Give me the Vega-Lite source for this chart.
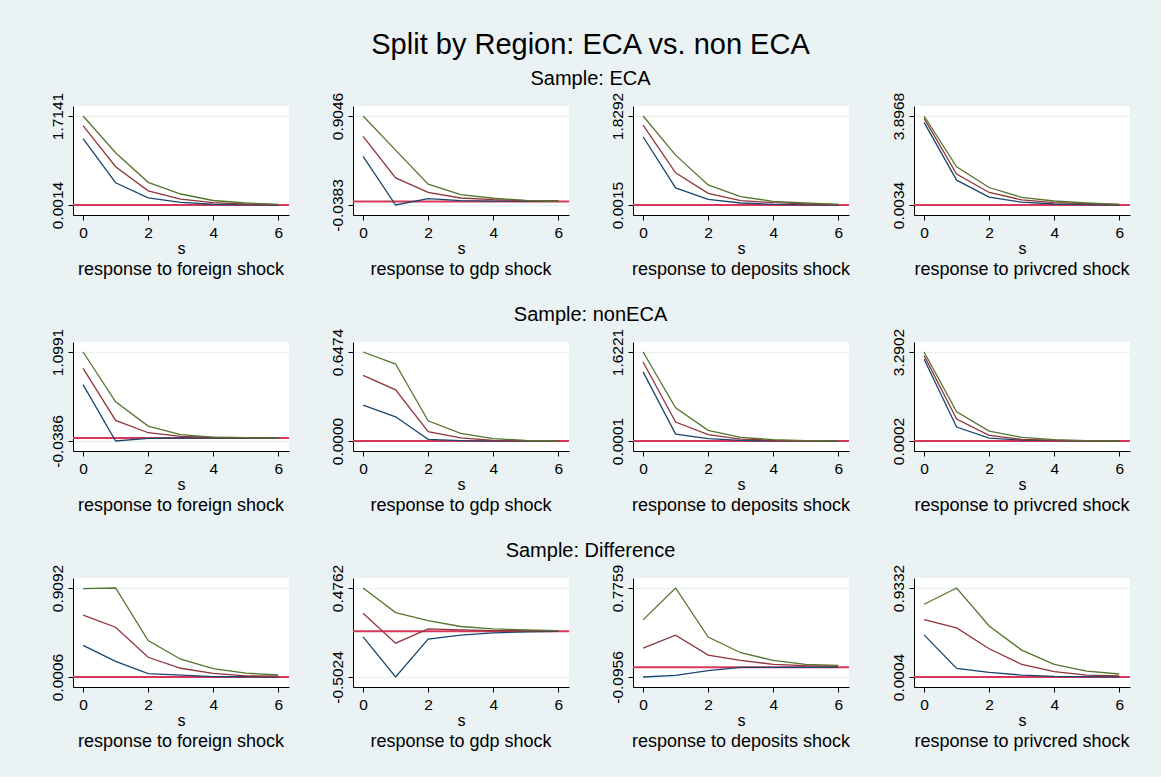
{
  "$schema": "https://vega.github.io/schema/vega-lite/v6.json",
  "padding": {"left": 50, "top": 31, "right": 30, "bottom": 26},
  "datasets": {
    "irf": [
      {"g":"ECA","k":"foreign","s":0,"lo":1.28,"irf":1.528,"hi":1.7141},
      {"g":"ECA","k":"foreign","s":1,"lo":0.43,"irf":0.737,"hi":1.006},
      {"g":"ECA","k":"foreign","s":2,"lo":0.139,"irf":0.274,"hi":0.438},
      {"g":"ECA","k":"foreign","s":3,"lo":0.05,"irf":0.114,"hi":0.213},
      {"g":"ECA","k":"foreign","s":4,"lo":0.016,"irf":0.046,"hi":0.088},
      {"g":"ECA","k":"foreign","s":5,"lo":0.006,"irf":0.02,"hi":0.04},
      {"g":"ECA","k":"foreign","s":6,"lo":0.0014,"irf":0.007,"hi":0.012},
      {"g":"ECA","k":"gdp","s":0,"lo":0.476,"irf":0.688,"hi":0.9046},
      {"g":"ECA","k":"gdp","s":1,"lo":-0.0383,"irf":0.249,"hi":0.543},
      {"g":"ECA","k":"gdp","s":2,"lo":0.029,"irf":0.096,"hi":0.182},
      {"g":"ECA","k":"gdp","s":3,"lo":0.008,"irf":0.036,"hi":0.072},
      {"g":"ECA","k":"gdp","s":4,"lo":0.003,"irf":0.018,"hi":0.033},
      {"g":"ECA","k":"gdp","s":5,"lo":0.003,"irf":0.008,"hi":0.011},
      {"g":"ECA","k":"gdp","s":6,"lo":0.003,"irf":0.004,"hi":0.004},
      {"g":"ECA","k":"deposits","s":0,"lo":1.403,"irf":1.643,"hi":1.8292},
      {"g":"ECA","k":"deposits","s":1,"lo":0.352,"irf":0.661,"hi":1.025},
      {"g":"ECA","k":"deposits","s":2,"lo":0.118,"irf":0.242,"hi":0.414},
      {"g":"ECA","k":"deposits","s":3,"lo":0.043,"irf":0.091,"hi":0.173},
      {"g":"ECA","k":"deposits","s":4,"lo":0.015,"irf":0.05,"hi":0.077},
      {"g":"ECA","k":"deposits","s":5,"lo":0.006,"irf":0.025,"hi":0.043},
      {"g":"ECA","k":"deposits","s":6,"lo":0.0015,"irf":0.012,"hi":0.015},
      {"g":"ECA","k":"privcred","s":0,"lo":3.62,"irf":3.79,"hi":3.8968},
      {"g":"ECA","k":"privcred","s":1,"lo":1.09,"irf":1.358,"hi":1.67},
      {"g":"ECA","k":"privcred","s":2,"lo":0.345,"irf":0.55,"hi":0.768},
      {"g":"ECA","k":"privcred","s":3,"lo":0.127,"irf":0.228,"hi":0.338},
      {"g":"ECA","k":"privcred","s":4,"lo":0.048,"irf":0.11,"hi":0.179},
      {"g":"ECA","k":"privcred","s":5,"lo":0.018,"irf":0.06,"hi":0.09},
      {"g":"ECA","k":"privcred","s":6,"lo":0.0034,"irf":0.03,"hi":0.03},
      {"g":"nonECA","k":"foreign","s":0,"lo":0.683,"irf":0.891,"hi":1.0991},
      {"g":"nonECA","k":"foreign","s":1,"lo":-0.0386,"irf":0.225,"hi":0.462},
      {"g":"nonECA","k":"foreign","s":2,"lo":-0.005,"irf":0.067,"hi":0.152},
      {"g":"nonECA","k":"foreign","s":3,"lo":0.0,"irf":0.021,"hi":0.042},
      {"g":"nonECA","k":"foreign","s":4,"lo":0.0,"irf":0.008,"hi":0.012},
      {"g":"nonECA","k":"foreign","s":5,"lo":0.0,"irf":0.004,"hi":0.005},
      {"g":"nonECA","k":"foreign","s":6,"lo":0.0,"irf":0.002,"hi":0.002},
      {"g":"nonECA","k":"gdp","s":0,"lo":0.261,"irf":0.478,"hi":0.6474},
      {"g":"nonECA","k":"gdp","s":1,"lo":0.176,"irf":0.372,"hi":0.56},
      {"g":"nonECA","k":"gdp","s":2,"lo":0.012,"irf":0.068,"hi":0.147},
      {"g":"nonECA","k":"gdp","s":3,"lo":0.002,"irf":0.022,"hi":0.056},
      {"g":"nonECA","k":"gdp","s":4,"lo":0.0,"irf":0.005,"hi":0.017},
      {"g":"nonECA","k":"gdp","s":5,"lo":0.0,"irf":0.001,"hi":0.004},
      {"g":"nonECA","k":"gdp","s":6,"lo":0.0,"irf":0.0,"hi":0.0},
      {"g":"nonECA","k":"deposits","s":0,"lo":1.259,"irf":1.44,"hi":1.6221},
      {"g":"nonECA","k":"deposits","s":1,"lo":0.127,"irf":0.345,"hi":0.605},
      {"g":"nonECA","k":"deposits","s":2,"lo":0.042,"irf":0.115,"hi":0.194},
      {"g":"nonECA","k":"deposits","s":3,"lo":0.012,"irf":0.036,"hi":0.067},
      {"g":"nonECA","k":"deposits","s":4,"lo":0.002,"irf":0.012,"hi":0.024},
      {"g":"nonECA","k":"deposits","s":5,"lo":0.001,"irf":0.004,"hi":0.006},
      {"g":"nonECA","k":"deposits","s":6,"lo":0.0001,"irf":0.001,"hi":0.001},
      {"g":"nonECA","k":"privcred","s":0,"lo":3.02,"irf":3.155,"hi":3.2902},
      {"g":"nonECA","k":"privcred","s":1,"lo":0.516,"irf":0.81,"hi":1.08},
      {"g":"nonECA","k":"privcred","s":2,"lo":0.11,"irf":0.209,"hi":0.368},
      {"g":"nonECA","k":"privcred","s":3,"lo":0.037,"irf":0.061,"hi":0.135},
      {"g":"nonECA","k":"privcred","s":4,"lo":0.012,"irf":0.025,"hi":0.049},
      {"g":"nonECA","k":"privcred","s":5,"lo":0.003,"irf":0.008,"hi":0.012},
      {"g":"nonECA","k":"privcred","s":6,"lo":0.0002,"irf":0.001,"hi":0.002},
      {"g":"Difference","k":"foreign","s":0,"lo":0.323,"irf":0.633,"hi":0.902},
      {"g":"Difference","k":"foreign","s":1,"lo":0.16,"irf":0.509,"hi":0.9092},
      {"g":"Difference","k":"foreign","s":2,"lo":0.036,"irf":0.202,"hi":0.373},
      {"g":"Difference","k":"foreign","s":3,"lo":0.019,"irf":0.09,"hi":0.182},
      {"g":"Difference","k":"foreign","s":4,"lo":0.005,"irf":0.038,"hi":0.085},
      {"g":"Difference","k":"foreign","s":5,"lo":0.003,"irf":0.012,"hi":0.04},
      {"g":"Difference","k":"foreign","s":6,"lo":0.0006,"irf":0.008,"hi":0.021},
      {"g":"Difference","k":"gdp","s":0,"lo":-0.061,"irf":0.199,"hi":0.4762},
      {"g":"Difference","k":"gdp","s":1,"lo":-0.5024,"irf":-0.13,"hi":0.206},
      {"g":"Difference","k":"gdp","s":2,"lo":-0.086,"irf":0.027,"hi":0.118},
      {"g":"Difference","k":"gdp","s":3,"lo":-0.042,"irf":0.016,"hi":0.053},
      {"g":"Difference","k":"gdp","s":4,"lo":-0.017,"irf":0.008,"hi":0.027},
      {"g":"Difference","k":"gdp","s":5,"lo":-0.006,"irf":0.004,"hi":0.016},
      {"g":"Difference","k":"gdp","s":6,"lo":0.0,"irf":0.004,"hi":0.008},
      {"g":"Difference","k":"deposits","s":0,"lo":-0.0956,"irf":0.187,"hi":0.464},
      {"g":"Difference","k":"deposits","s":1,"lo":-0.079,"irf":0.314,"hi":0.7759},
      {"g":"Difference","k":"deposits","s":2,"lo":-0.034,"irf":0.119,"hi":0.295},
      {"g":"Difference","k":"deposits","s":3,"lo":-0.001,"irf":0.067,"hi":0.142},
      {"g":"Difference","k":"deposits","s":4,"lo":-0.001,"irf":0.028,"hi":0.067},
      {"g":"Difference","k":"deposits","s":5,"lo":0.0,"irf":0.015,"hi":0.028},
      {"g":"Difference","k":"deposits","s":6,"lo":0.0,"irf":0.011,"hi":0.018},
      {"g":"Difference","k":"privcred","s":0,"lo":0.442,"irf":0.603,"hi":0.763},
      {"g":"Difference","k":"privcred","s":1,"lo":0.091,"irf":0.515,"hi":0.9332},
      {"g":"Difference","k":"privcred","s":2,"lo":0.049,"irf":0.296,"hi":0.536},
      {"g":"Difference","k":"privcred","s":3,"lo":0.021,"irf":0.133,"hi":0.282},
      {"g":"Difference","k":"privcred","s":4,"lo":0.008,"irf":0.056,"hi":0.133},
      {"g":"Difference","k":"privcred","s":5,"lo":0.004,"irf":0.021,"hi":0.063},
      {"g":"Difference","k":"privcred","s":6,"lo":0.0004,"irf":0.011,"hi":0.032}
    ]
  },
  "title": {"text": "Split by Region: ECA vs. non ECA", "fontSize": 29, "anchor": "middle", "offset": 9},
  "spacing": 26,
  "vconcat": [
    {
      "title": {"text": "Sample: ECA", "fontSize": 20, "anchor": "middle", "offset": 3},
      "spacing": 40,
      "hconcat": [
        {"width": 216, "height": 109, "title": {"text": "response to foreign shock", "orient": "bottom", "fontSize": 18, "offset": 4},
         "layer": [
          {"data": {"values": [{}]}, "mark": {"type": "rule", "color": "#d8365a", "strokeWidth": 2}, "encoding": {"y": {"datum": 0, "type": "quantitative"}}},
          {"data": {"name": "irf"}, "transform": [{"filter": "datum.g==='ECA'&&datum.k==='foreign'"}, {"fold": ["lo","irf","hi"], "as": ["b","v"]}],
           "mark": {"type": "line", "strokeWidth": 1.3},
           "encoding": {
            "x": {"field": "s", "type": "quantitative", "scale": {"domain": [-0.31, 6.33], "nice": false, "zero": false}, "axis": {"values": [0,2,4,6], "title": "s"}},
            "y": {"field": "v", "type": "quantitative", "scale": {"domain": [-0.1911, 1.9066], "nice": false, "zero": false}, "axis": {"values": [0.0014, 1.7141], "title": null}},
            "color": {"field": "b", "type": "nominal", "scale": {"domain": ["lo","irf","hi"], "range": ["#1a476f","#90353b","#55752f"]}, "legend": null}}}
         ]},
        {"width": 216, "height": 109, "title": {"text": "response to gdp shock", "orient": "bottom", "fontSize": 18, "offset": 4},
         "layer": [
          {"data": {"values": [{}]}, "mark": {"type": "rule", "color": "#d8365a", "strokeWidth": 2}, "encoding": {"y": {"datum": 0, "type": "quantitative"}}},
          {"data": {"name": "irf"}, "transform": [{"filter": "datum.g==='ECA'&&datum.k==='gdp'"}, {"fold": ["lo","irf","hi"], "as": ["b","v"]}],
           "mark": {"type": "line", "strokeWidth": 1.3},
           "encoding": {
            "x": {"field": "s", "type": "quantitative", "scale": {"domain": [-0.31, 6.33], "nice": false, "zero": false}, "axis": {"values": [0,2,4,6], "title": "s"}},
            "y": {"field": "v", "type": "quantitative", "scale": {"domain": [-0.1443, 1.0106], "nice": false, "zero": false}, "axis": {"values": [-0.0383, 0.9046], "title": null}},
            "color": {"field": "b", "type": "nominal", "scale": {"domain": ["lo","irf","hi"], "range": ["#1a476f","#90353b","#55752f"]}, "legend": null}}}
         ]},
        {"width": 216, "height": 109, "title": {"text": "response to deposits shock", "orient": "bottom", "fontSize": 18, "offset": 4},
         "layer": [
          {"data": {"values": [{}]}, "mark": {"type": "rule", "color": "#d8365a", "strokeWidth": 2}, "encoding": {"y": {"datum": 0, "type": "quantitative"}}},
          {"data": {"name": "irf"}, "transform": [{"filter": "datum.g==='ECA'&&datum.k==='deposits'"}, {"fold": ["lo","irf","hi"], "as": ["b","v"]}],
           "mark": {"type": "line", "strokeWidth": 1.3},
           "encoding": {
            "x": {"field": "s", "type": "quantitative", "scale": {"domain": [-0.31, 6.33], "nice": false, "zero": false}, "axis": {"values": [0,2,4,6], "title": "s"}},
            "y": {"field": "v", "type": "quantitative", "scale": {"domain": [-0.2039, 2.0346], "nice": false, "zero": false}, "axis": {"values": [0.0015, 1.8292], "title": null}},
            "color": {"field": "b", "type": "nominal", "scale": {"domain": ["lo","irf","hi"], "range": ["#1a476f","#90353b","#55752f"]}, "legend": null}}}
         ]},
        {"width": 216, "height": 109, "title": {"text": "response to privcred shock", "orient": "bottom", "fontSize": 18, "offset": 4},
         "layer": [
          {"data": {"values": [{}]}, "mark": {"type": "rule", "color": "#d8365a", "strokeWidth": 2}, "encoding": {"y": {"datum": 0, "type": "quantitative"}}},
          {"data": {"name": "irf"}, "transform": [{"filter": "datum.g==='ECA'&&datum.k==='privcred'"}, {"fold": ["lo","irf","hi"], "as": ["b","v"]}],
           "mark": {"type": "line", "strokeWidth": 1.3},
           "encoding": {
            "x": {"field": "s", "type": "quantitative", "scale": {"domain": [-0.31, 6.33], "nice": false, "zero": false}, "axis": {"values": [0,2,4,6], "title": "s"}},
            "y": {"field": "v", "type": "quantitative", "scale": {"domain": [-0.4342, 4.3344], "nice": false, "zero": false}, "axis": {"values": [0.0034, 3.8968], "title": null}},
            "color": {"field": "b", "type": "nominal", "scale": {"domain": ["lo","irf","hi"], "range": ["#1a476f","#90353b","#55752f"]}, "legend": null}}}
         ]}
      ]
    },
    {
      "title": {"text": "Sample: nonECA", "fontSize": 20, "anchor": "middle", "offset": 3},
      "spacing": 40,
      "hconcat": [
        {"width": 216, "height": 109, "title": {"text": "response to foreign shock", "orient": "bottom", "fontSize": 18, "offset": 4},
         "layer": [
          {"data": {"values": [{}]}, "mark": {"type": "rule", "color": "#d8365a", "strokeWidth": 2}, "encoding": {"y": {"datum": 0, "type": "quantitative"}}},
          {"data": {"name": "irf"}, "transform": [{"filter": "datum.g==='nonECA'&&datum.k==='foreign'"}, {"fold": ["lo","irf","hi"], "as": ["b","v"]}],
           "mark": {"type": "line", "strokeWidth": 1.3},
           "encoding": {
            "x": {"field": "s", "type": "quantitative", "scale": {"domain": [-0.31, 6.33], "nice": false, "zero": false}, "axis": {"values": [0,2,4,6], "title": "s"}},
            "y": {"field": "v", "type": "quantitative", "scale": {"domain": [-0.1665, 1.2270], "nice": false, "zero": false}, "axis": {"values": [-0.0386, 1.0991], "title": null}},
            "color": {"field": "b", "type": "nominal", "scale": {"domain": ["lo","irf","hi"], "range": ["#1a476f","#90353b","#55752f"]}, "legend": null}}}
         ]},
        {"width": 216, "height": 109, "title": {"text": "response to gdp shock", "orient": "bottom", "fontSize": 18, "offset": 4},
         "layer": [
          {"data": {"values": [{}]}, "mark": {"type": "rule", "color": "#d8365a", "strokeWidth": 2}, "encoding": {"y": {"datum": 0, "type": "quantitative"}}},
          {"data": {"name": "irf"}, "transform": [{"filter": "datum.g==='nonECA'&&datum.k==='gdp'"}, {"fold": ["lo","irf","hi"], "as": ["b","v"]}],
           "mark": {"type": "line", "strokeWidth": 1.3},
           "encoding": {
            "x": {"field": "s", "type": "quantitative", "scale": {"domain": [-0.31, 6.33], "nice": false, "zero": false}, "axis": {"values": [0,2,4,6], "title": "s"}},
            "y": {"field": "v", "type": "quantitative", "scale": {"domain": [-0.0728, 0.7202], "nice": false, "zero": false}, "axis": {"values": [0.0, 0.6474], "title": null}},
            "color": {"field": "b", "type": "nominal", "scale": {"domain": ["lo","irf","hi"], "range": ["#1a476f","#90353b","#55752f"]}, "legend": null}}}
         ]},
        {"width": 216, "height": 109, "title": {"text": "response to deposits shock", "orient": "bottom", "fontSize": 18, "offset": 4},
         "layer": [
          {"data": {"values": [{}]}, "mark": {"type": "rule", "color": "#d8365a", "strokeWidth": 2}, "encoding": {"y": {"datum": 0, "type": "quantitative"}}},
          {"data": {"name": "irf"}, "transform": [{"filter": "datum.g==='nonECA'&&datum.k==='deposits'"}, {"fold": ["lo","irf","hi"], "as": ["b","v"]}],
           "mark": {"type": "line", "strokeWidth": 1.3},
           "encoding": {
            "x": {"field": "s", "type": "quantitative", "scale": {"domain": [-0.31, 6.33], "nice": false, "zero": false}, "axis": {"values": [0,2,4,6], "title": "s"}},
            "y": {"field": "v", "type": "quantitative", "scale": {"domain": [-0.1822, 1.8044], "nice": false, "zero": false}, "axis": {"values": [0.0001, 1.6221], "title": null}},
            "color": {"field": "b", "type": "nominal", "scale": {"domain": ["lo","irf","hi"], "range": ["#1a476f","#90353b","#55752f"]}, "legend": null}}}
         ]},
        {"width": 216, "height": 109, "title": {"text": "response to privcred shock", "orient": "bottom", "fontSize": 18, "offset": 4},
         "layer": [
          {"data": {"values": [{}]}, "mark": {"type": "rule", "color": "#d8365a", "strokeWidth": 2}, "encoding": {"y": {"datum": 0, "type": "quantitative"}}},
          {"data": {"name": "irf"}, "transform": [{"filter": "datum.g==='nonECA'&&datum.k==='privcred'"}, {"fold": ["lo","irf","hi"], "as": ["b","v"]}],
           "mark": {"type": "line", "strokeWidth": 1.3},
           "encoding": {
            "x": {"field": "s", "type": "quantitative", "scale": {"domain": [-0.31, 6.33], "nice": false, "zero": false}, "axis": {"values": [0,2,4,6], "title": "s"}},
            "y": {"field": "v", "type": "quantitative", "scale": {"domain": [-0.3696, 3.6600], "nice": false, "zero": false}, "axis": {"values": [0.0002, 3.2902], "title": null}},
            "color": {"field": "b", "type": "nominal", "scale": {"domain": ["lo","irf","hi"], "range": ["#1a476f","#90353b","#55752f"]}, "legend": null}}}
         ]}
      ]
    },
    {
      "title": {"text": "Sample: Difference", "fontSize": 20, "anchor": "middle", "offset": 3},
      "spacing": 40,
      "hconcat": [
        {"width": 216, "height": 109, "title": {"text": "response to foreign shock", "orient": "bottom", "fontSize": 18, "offset": 4},
         "layer": [
          {"data": {"values": [{}]}, "mark": {"type": "rule", "color": "#d8365a", "strokeWidth": 2}, "encoding": {"y": {"datum": 0, "type": "quantitative"}}},
          {"data": {"name": "irf"}, "transform": [{"filter": "datum.g==='Difference'&&datum.k==='foreign'"}, {"fold": ["lo","irf","hi"], "as": ["b","v"]}],
           "mark": {"type": "line", "strokeWidth": 1.3},
           "encoding": {
            "x": {"field": "s", "type": "quantitative", "scale": {"domain": [-0.31, 6.33], "nice": false, "zero": false}, "axis": {"values": [0,2,4,6], "title": "s"}},
            "y": {"field": "v", "type": "quantitative", "scale": {"domain": [-0.1015, 1.0113], "nice": false, "zero": false}, "axis": {"values": [0.0006, 0.9092], "title": null}},
            "color": {"field": "b", "type": "nominal", "scale": {"domain": ["lo","irf","hi"], "range": ["#1a476f","#90353b","#55752f"]}, "legend": null}}}
         ]},
        {"width": 216, "height": 109, "title": {"text": "response to gdp shock", "orient": "bottom", "fontSize": 18, "offset": 4},
         "layer": [
          {"data": {"values": [{}]}, "mark": {"type": "rule", "color": "#d8365a", "strokeWidth": 2}, "encoding": {"y": {"datum": 0, "type": "quantitative"}}},
          {"data": {"name": "irf"}, "transform": [{"filter": "datum.g==='Difference'&&datum.k==='gdp'"}, {"fold": ["lo","irf","hi"], "as": ["b","v"]}],
           "mark": {"type": "line", "strokeWidth": 1.3},
           "encoding": {
            "x": {"field": "s", "type": "quantitative", "scale": {"domain": [-0.31, 6.33], "nice": false, "zero": false}, "axis": {"values": [0,2,4,6], "title": "s"}},
            "y": {"field": "v", "type": "quantitative", "scale": {"domain": [-0.6124, 0.5862], "nice": false, "zero": false}, "axis": {"values": [-0.5024, 0.4762], "title": null}},
            "color": {"field": "b", "type": "nominal", "scale": {"domain": ["lo","irf","hi"], "range": ["#1a476f","#90353b","#55752f"]}, "legend": null}}}
         ]},
        {"width": 216, "height": 109, "title": {"text": "response to deposits shock", "orient": "bottom", "fontSize": 18, "offset": 4},
         "layer": [
          {"data": {"values": [{}]}, "mark": {"type": "rule", "color": "#d8365a", "strokeWidth": 2}, "encoding": {"y": {"datum": 0, "type": "quantitative"}}},
          {"data": {"name": "irf"}, "transform": [{"filter": "datum.g==='Difference'&&datum.k==='deposits'"}, {"fold": ["lo","irf","hi"], "as": ["b","v"]}],
           "mark": {"type": "line", "strokeWidth": 1.3},
           "encoding": {
            "x": {"field": "s", "type": "quantitative", "scale": {"domain": [-0.31, 6.33], "nice": false, "zero": false}, "axis": {"values": [0,2,4,6], "title": "s"}},
            "y": {"field": "v", "type": "quantitative", "scale": {"domain": [-0.1936, 0.8739], "nice": false, "zero": false}, "axis": {"values": [-0.0956, 0.7759], "title": null}},
            "color": {"field": "b", "type": "nominal", "scale": {"domain": ["lo","irf","hi"], "range": ["#1a476f","#90353b","#55752f"]}, "legend": null}}}
         ]},
        {"width": 216, "height": 109, "title": {"text": "response to privcred shock", "orient": "bottom", "fontSize": 18, "offset": 4},
         "layer": [
          {"data": {"values": [{}]}, "mark": {"type": "rule", "color": "#d8365a", "strokeWidth": 2}, "encoding": {"y": {"datum": 0, "type": "quantitative"}}},
          {"data": {"name": "irf"}, "transform": [{"filter": "datum.g==='Difference'&&datum.k==='privcred'"}, {"fold": ["lo","irf","hi"], "as": ["b","v"]}],
           "mark": {"type": "line", "strokeWidth": 1.3},
           "encoding": {
            "x": {"field": "s", "type": "quantitative", "scale": {"domain": [-0.31, 6.33], "nice": false, "zero": false}, "axis": {"values": [0,2,4,6], "title": "s"}},
            "y": {"field": "v", "type": "quantitative", "scale": {"domain": [-0.1044, 1.0380], "nice": false, "zero": false}, "axis": {"values": [0.0004, 0.9332], "title": null}},
            "color": {"field": "b", "type": "nominal", "scale": {"domain": ["lo","irf","hi"], "range": ["#1a476f","#90353b","#55752f"]}, "legend": null}}}
         ]}
      ]
    }
  ],
  "config": {
    "background": "#eaf2f3",
    "font": "Liberation Sans",
    "view": {"fill": "white", "stroke": null},
    "title": {"font": "Liberation Sans", "fontWeight": "normal", "color": "#000000"},
    "axis": {
      "domainColor": "#000000", "tickColor": "#000000", "labelColor": "#000000", "titleColor": "#000000",
      "labelFont": "Liberation Sans", "titleFont": "Liberation Sans", "labelFontSize": 15.5, "titleFontSize": 16,
      "titleFontWeight": "normal", "tickSize": 5, "domainWidth": 1, "tickWidth": 1, "gridColor": "#eaf2f3", "gridWidth": 1.5
    },
    "axisX": {"grid": false, "labelPadding": 5, "titlePadding": 0, "labelAngle": 0, "labelFlush": false},
    "axisY": {"grid": true, "labelAngle": -90, "labelAlign": "center", "labelBaseline": "bottom", "labelPadding": 3,
      "labelExpr": "replace(format(datum.value, '.4f'), '\u2212', '-')"}
  }
}
